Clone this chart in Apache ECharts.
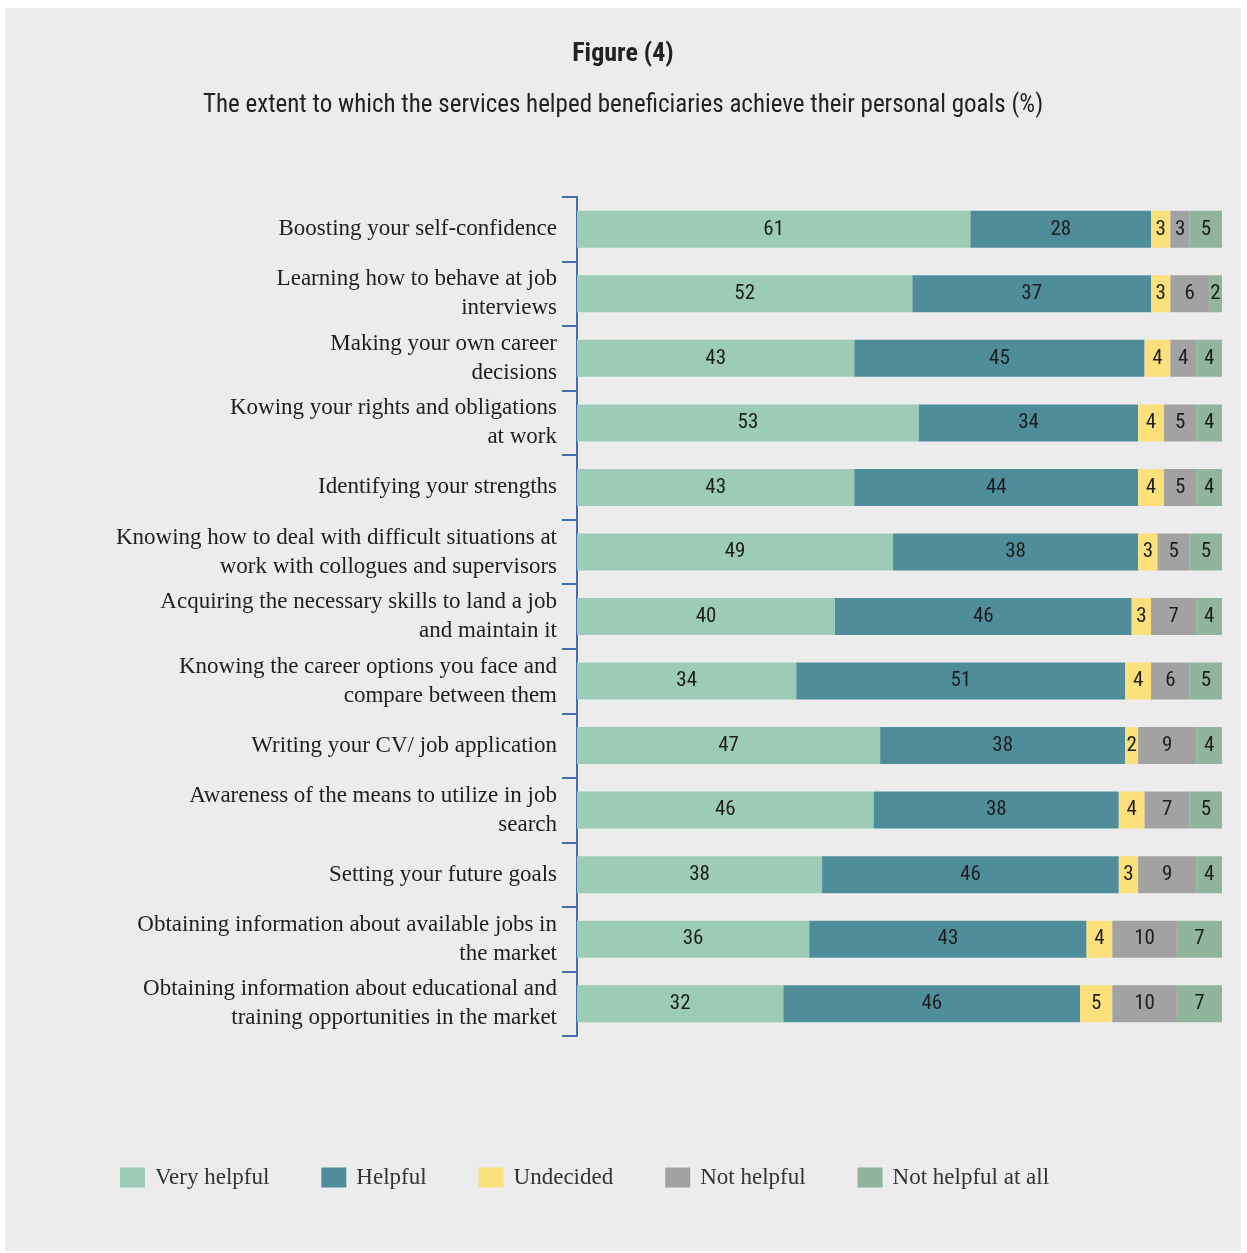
<!DOCTYPE html>
<html>
<head>
<meta charset="utf-8">
<script src="https://cdn.jsdelivr.net/npm/echarts@6/dist/echarts.min.js"></script>
<style>
  body { margin: 0; background: #fff; }
  #main { position: absolute; left: 5px; top: 8px; width: 1236px; height: 1243px; }
</style>
</head>
<body>
<div id="main"></div>
<script>
var categories = [
  'Boosting your self-confidence',
  'Learning how to behave at job\ninterviews',
  'Making your own career\ndecisions',
  'Kowing your rights and obligations\nat work',
  'Identifying your strengths',
  'Knowing how to deal with difficult situations at\nwork with collogues and supervisors',
  'Acquiring the necessary skills to land a job\nand maintain it',
  'Knowing the career options you face and\ncompare between them',
  'Writing your CV/ job application',
  'Awareness of the means to utilize in job\nsearch',
  'Setting your future goals',
  'Obtaining information about available jobs in\nthe market',
  'Obtaining information about educational and\ntraining opportunities in the market'
];
var veryHelpful    = [61, 52, 43, 53, 43, 49, 40, 34, 47, 46, 38, 36, 32];
var helpful        = [28, 37, 45, 34, 44, 38, 46, 51, 38, 38, 46, 43, 46];
var undecided      = [3, 3, 4, 4, 4, 3, 3, 4, 2, 4, 3, 4, 5];
var notHelpful     = [3, 6, 4, 5, 5, 5, 7, 6, 9, 7, 9, 10, 10];
var notHelpfulAtAll = [5, 2, 4, 4, 4, 5, 4, 5, 4, 5, 4, 7, 7];

var seriesNames = ['Very helpful', 'Helpful', 'Undecided', 'Not helpful', 'Not helpful at all'];
var seriesData = [veryHelpful, helpful, undecided, notHelpful, notHelpfulAtAll];
var colors = ['#9ccbb6', '#4f8d9b', '#fbe07c', '#a2a2a2', '#90b59c'];

var condensed = '"Liberation Sans Narrow", "Roboto Condensed", "Open Sans", sans-serif';
var serif = '"Liberation Serif", "DejaVu Serif", serif';

var chart = echarts.init(document.getElementById('main'));

var series = seriesNames.map(function (name, i) {
  return {
    name: name,
    type: 'bar',
    stack: 'total',
    barWidth: 37,
    data: seriesData[i],
    itemStyle: { color: colors[i] },
    label: {
      show: true,
      position: 'inside',
      color: '#1e1e1e',
      fontFamily: condensed,
      fontSize: 21
    }
  };
});

var option = {
  backgroundColor: '#ececec',
  color: colors,
  title: [
    {
      text: 'Figure (4)',
      left: 'center',
      top: 28,
      textStyle: { fontFamily: condensed, fontWeight: 'bold', fontSize: 26, color: '#222' }
    },
    {
      text: 'The extent to which the services helped beneficiaries achieve their personal goals (%)',
      left: 'center',
      top: 80,
      textStyle: { fontFamily: condensed, fontWeight: 'normal', fontSize: 25, color: '#222' }
    }
  ],
  legend: {
    left: 110,
    top: 1153,
    itemWidth: 25,
    itemHeight: 20,
    itemGap: 52,
    icon: 'rect',
    textStyle: { fontFamily: serif, fontSize: 23, color: '#333', padding: [0, 0, 0, 5] },
    data: seriesNames
  },
  grid: { left: 572, top: 189, width: 645, height: 839 },
  xAxis: {
    type: 'value',
    min: 0,
    max: 100,
    show: false
  },
  yAxis: {
    type: 'category',
    inverse: true,
    data: categories,
    axisLine: { show: true, lineStyle: { color: '#3f6fb0', width: 2 } },
    axisTick: { show: true, length: 15, lineStyle: { color: '#3f6fb0', width: 2 } },
    axisLabel: {
      fontFamily: serif,
      fontSize: 23,
      lineHeight: 29,
      color: '#1e1e1e',
      margin: 20
    }
  },
  series: series
};

chart.setOption(option);
</script>
</body>
</html>
